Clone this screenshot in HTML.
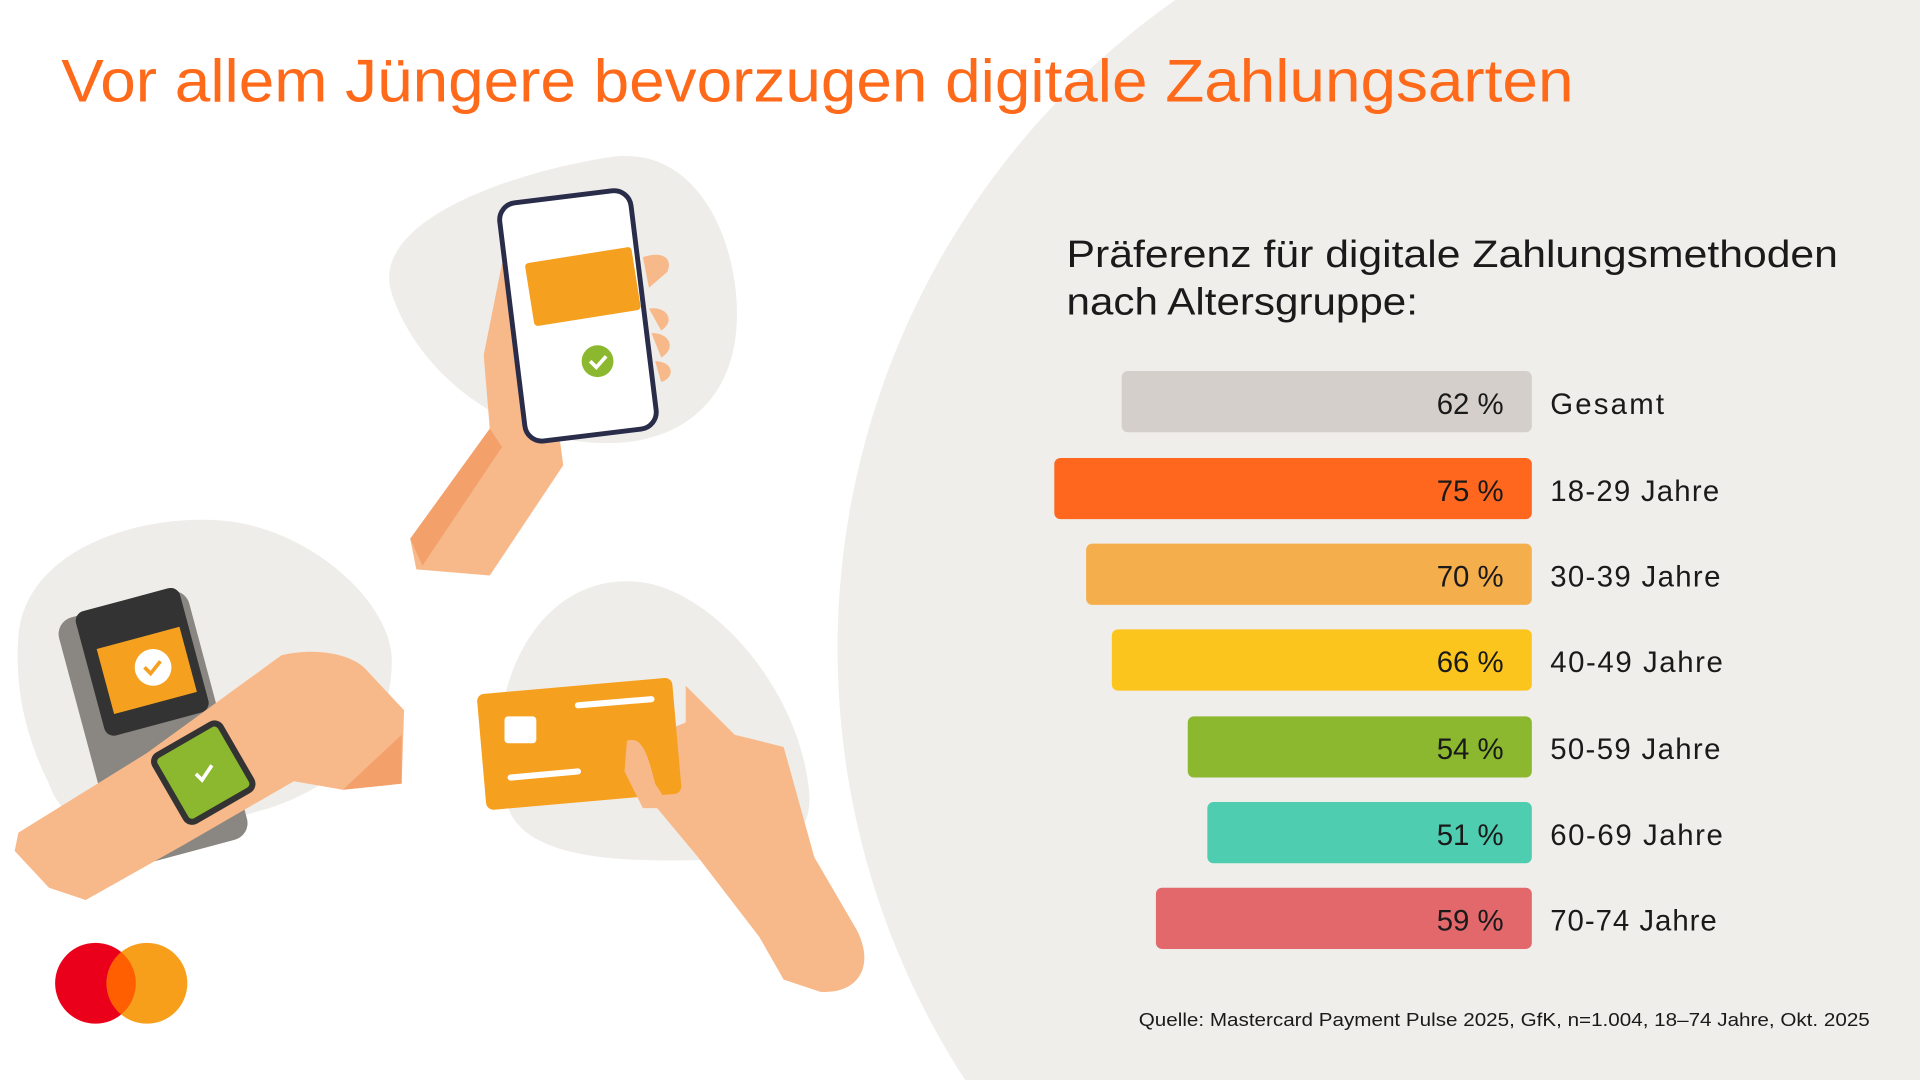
<!DOCTYPE html>
<html><head><meta charset="utf-8"><style>
html,body{margin:0;padding:0;background:#fff;width:1920px;height:1080px;overflow:hidden;position:relative}
svg{display:block;position:absolute;left:0;top:0}
text{font-family:"Liberation Sans",sans-serif}
</style></head><body>
<svg width="1920" height="1080" viewBox="0 0 1568 882" xmlns="http://www.w3.org/2000/svg">
<rect width="1568" height="882" fill="#fff"/>
<circle cx="1331" cy="530" r="647" fill="#f0eeeb"/>
<text x="50" y="83" font-size="49" fill="#ff6a1a" textLength="1235" lengthAdjust="spacingAndGlyphs">Vor allem Jüngere bevorzugen digitale Zahlungsarten</text>
<text x="871" y="218" font-size="31" fill="#1a1a1a" textLength="630" lengthAdjust="spacingAndGlyphs">Präferenz für digitale Zahlungsmethoden</text>
<text x="871" y="257" font-size="31" fill="#1a1a1a" textLength="287" lengthAdjust="spacingAndGlyphs">nach Altersgruppe:</text>
<g font-size="24" fill="#1a1a1a">
<rect x="916" y="303" width="335" height="50" rx="5" fill="#d4cfca"/><text x="1228" y="338" text-anchor="end">62 %</text><text x="1266" y="338" textLength="93">Gesamt</text>
<rect x="861" y="374" width="390" height="50" rx="5" fill="#ff671f"/><text x="1228" y="409" text-anchor="end">75 %</text><text x="1266" y="409" textLength="138">18-29 Jahre</text>
<rect x="887" y="444" width="364" height="50" rx="5" fill="#f5ae4c"/><text x="1228" y="479" text-anchor="end">70 %</text><text x="1266" y="479" textLength="139">30-39 Jahre</text>
<rect x="908" y="514" width="343" height="50" rx="5" fill="#fcc51e"/><text x="1228" y="549" text-anchor="end">66 %</text><text x="1266" y="549" textLength="141">40-49 Jahre</text>
<rect x="970" y="585" width="281" height="50" rx="5" fill="#8cb82f"/><text x="1228" y="620" text-anchor="end">54 %</text><text x="1266" y="620" textLength="139">50-59 Jahre</text>
<rect x="986" y="655" width="265" height="50" rx="5" fill="#4ecdb0"/><text x="1228" y="690" text-anchor="end">51 %</text><text x="1266" y="690" textLength="141">60-69 Jahre</text>
<rect x="944" y="725" width="307" height="50" rx="5" fill="#e2686c"/><text x="1228" y="760" text-anchor="end">59 %</text><text x="1266" y="760" textLength="136">70-74 Jahre</text>
</g>
<text x="930" y="838" font-size="15" fill="#1a1a1a" textLength="597" lengthAdjust="spacingAndGlyphs">Quelle: Mastercard Payment Pulse 2025, GfK, n=1.004, 18–74 Jahre, Okt. 2025</text>
<path d="M320 240 C300 180 420 140 500 128 C580 118 610 220 600 280 C590 340 540 370 470 360 C400 350 340 300 320 240Z" fill="#efedea"/>
<path d="M15 520 C20 450 110 420 180 425 C250 430 320 490 320 540 C320 600 280 640 220 660 C150 680 60 700 40 640 C20 600 12 560 15 520Z" fill="#efedea"/>
<path d="M410 580 C420 520 460 470 520 475 C580 480 650 560 660 640 C668 690 630 700 580 702 C500 705 430 700 415 660 C405 630 405 610 410 580Z" fill="#efedea"/>
<path d="M335 440 L400 350 L395 290 L410 215 L440 230 L460 380 L420 440 L400 470 L340 465Z" fill="#f8b98a"/>
<path d="M335 440 L400 350 L410 365 L345 462Z" fill="#f3a06a"/>
<rect x="418" y="160" width="108" height="196" rx="14" fill="#fff" stroke="#2a2d4a" stroke-width="4" transform="rotate(-7 472 258)"/>
<rect x="432" y="208" width="88" height="52" rx="3" fill="#f5a01f" transform="rotate(-9 476 234)"/>
<circle cx="488" cy="295" r="13" fill="#8cb82f"/>
<path d="M482 295 l5 5 l8 -9" stroke="#fff" stroke-width="3" fill="none"/>
<path d="M525 210 C540 205 550 210 545 222 L530 235Z M530 252 C545 250 552 262 540 270Z M532 272 C548 272 552 285 540 292Z M535 295 C550 295 552 308 540 312Z" fill="#f8b98a"/>
<rect x="70" y="490" width="110" height="210" rx="14" fill="#8a8682" transform="rotate(-15 125 595)"/>
<rect x="72" y="488" width="88" height="105" rx="8" fill="#333" transform="rotate(-15 116 540)"/>
<rect x="85" y="520" width="70" height="55" fill="#f5a01f" transform="rotate(-15 120 548)"/>
<circle cx="125" cy="545" r="15" fill="#fff"/>
<path d="M118 545 l5 5 l8 -10" stroke="#f5a01f" stroke-width="3" fill="none"/>
<path d="M15 680 L120 615 L230 535 C260 528 290 535 300 548 L330 580 L328 640 L280 645 L240 638 L150 690 L70 735 L40 725 L12 695Z" fill="#f8b98a"/>
<path d="M280 645 L328 600 L328 640Z" fill="#f3a06a"/>
<rect x="135" y="600" width="62" height="62" rx="6" fill="#8cb82f" stroke="#333" stroke-width="5" transform="rotate(-30 166 631)"/>
<path d="M160 632 l5 5 l8 -12" stroke="#fff" stroke-width="3" fill="none"/>
<path d="M560 560 L600 600 L640 610 L665 700 L700 760 C715 790 700 812 670 810 L640 800 L620 765 L570 700 L520 640 L510 610 L560 590Z" fill="#f8b98a"/>
<rect x="393" y="560" width="160" height="95" rx="6" fill="#f5a01f" transform="rotate(-5 473 607)"/>
<rect x="412" y="585" width="26" height="22" rx="3" fill="#fff"/>
<path d="M472 576 L532 571 M417 635 L472 630" stroke="#fff" stroke-width="5" stroke-linecap="round"/>
<path d="M512 605 C525 600 530 620 535 640 L548 660 L525 660 L510 630Z" fill="#f8b98a"/>
<circle cx="78" cy="803" r="33" fill="#eb001b"/>
<circle cx="120" cy="803" r="33" fill="#f79e1b"/>
<path d="M99 777.6 A33 33 0 0 1 99 828.4 A33 33 0 0 1 99 777.6Z" fill="#ff5f00"/>
</svg>
</body></html>
